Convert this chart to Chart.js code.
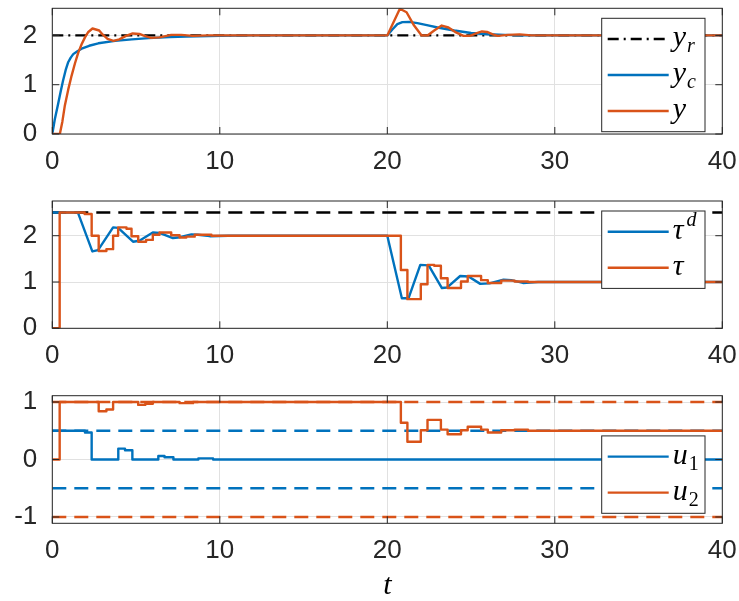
<!DOCTYPE html>
<html>
<head>
<meta charset="utf-8">
<script src="https://cdn.jsdelivr.net/npm/chart.js@4.4.1/dist/chart.umd.min.js"></script>
<style>
  html, body { margin: 0; padding: 0; background: #ffffff; }
  #wrap { position: relative; width: 739px; height: 601px; overflow: hidden; background: #ffffff; }
  #wrap canvas { position: absolute; left: 0; top: 0; }
</style>
</head>
<body>
<div id="wrap">
  <canvas id="p1" width="739" height="601"></canvas>
  <canvas id="p2" width="739" height="601"></canvas>
  <canvas id="p3" width="739" height="601"></canvas>
</div>
<script>
// ---- shared time axis ----
const tTicks = [0, 10, 20, 30, 40];
const tTickLabels = ['0', '10', '20', '30', '40'];

// ---- panel 1: reference, commanded and actual output ----
const yrT = [0, 40];
const yrV = [2, 2];
const ycT = [0, 0.15, 0.34, 0.5, 0.64, 0.8, 0.94, 1.1, 1.25, 1.5, 1.75, 2.2, 2.75, 3.75, 4.75, 5.75, 7, 8, 10, 12, 20,
             20.3, 20.6, 20.9, 21.3, 21.8, 22.5, 23, 24, 25, 26, 27, 28, 40];
const ycV = [0, 0.3, 0.6, 0.86, 1.08, 1.3, 1.45, 1.55, 1.62, 1.68, 1.73, 1.79, 1.84, 1.89, 1.92, 1.945, 1.965, 1.978, 1.99, 2.0, 2.0,
             2.12, 2.23, 2.27, 2.275, 2.25, 2.2, 2.16, 2.1, 2.05, 2.025, 2.01, 2.0, 2.0];
const yT = [0, 0.45, 0.6, 0.75, 0.95, 1.15, 1.35, 1.55, 1.75, 1.95, 2.15, 2.4, 2.8, 3.0, 3.3, 3.65, 4.0, 4.4, 4.8, 5.2, 5.5, 5.9, 6.4, 7.1, 7.7, 8.4, 9.3, 20,
            20.75, 21.15, 21.6, 22.05, 22.4, 22.8, 23.25, 23.65, 24.1, 24.55, 24.95, 25.3, 25.65, 25.95, 26.3, 26.6, 27.2, 27.9, 28.6, 40];
const yV = [0, 0, 0.25, 0.58, 0.9, 1.18, 1.43, 1.65, 1.82, 1.96, 2.07, 2.14, 2.1, 2.02, 1.93, 1.89, 1.92, 1.99, 2.04, 2.03, 1.99, 1.95, 1.96, 2.01, 2.01, 1.99, 2.0, 2.0,
            2.54, 2.47, 2.2, 2.0, 2.0, 2.1, 2.2, 2.16, 2.06, 1.99, 1.99, 2.04, 2.08, 2.07, 2.02, 1.99, 2.01, 2.02, 2.0, 2.0];
const p1Ticks = [0, 1, 2];
const p1TickLabels = ['0', '1', '2'];

// ---- panel 2: desired and applied torque ----
const tauMaxT = [0, 40];
const tauMaxV = [2.5, 2.5];
const tauDT = [0, 1.53, 2.39, 2.73, 3.63, 3.93, 4.82, 5.2, 6.0, 6.4, 7.2, 7.5, 8.3, 8.7, 9.4, 10.5, 20,
               20.87, 21.27, 21.97, 22.47, 23.26, 23.56, 24.35, 24.85, 25.55, 26.1, 26.94, 27.4, 28.1, 29, 40];
const tauDV = [2.5, 2.5, 1.66, 1.69, 2.18, 2.17, 1.87, 1.89, 2.07, 2.06, 1.95, 1.96, 2.03, 2.02, 1.99, 2.0, 2.0,
               0.65, 0.65, 1.37, 1.36, 0.87, 0.88, 1.13, 1.12, 0.96, 0.97, 1.05, 1.04, 0.98, 1.0, 1.0];
// applied torque, held constant from each instant to the next
const tauT = [0, 0.44, 1.93, 2.35, 2.77, 3.23, 3.63, 3.93, 4.43, 4.73, 5.13, 5.6, 6.0, 6.4, 7.1, 7.6, 8.0, 8.5, 9.5,
              20.81, 21.2, 22.0, 22.4, 22.8, 23.2, 23.6, 24.4, 24.8, 25.6, 26.0, 26.8, 27.6, 28.4, 40];
const tauV = [0, 2.5, 2.47, 2.0, 1.67, 1.71, 2.0, 2.18, 2.15, 1.99, 1.87, 1.91, 2.02, 2.07, 2.01, 1.96, 1.98, 2.02, 2.0,
              1.26, 0.63, 0.95, 1.37, 1.35, 1.08, 0.87, 1.01, 1.13, 1.04, 0.98, 1.03, 1.01, 1.0, 1.0];
const p2Ticks = [0, 1, 2];
const p2TickLabels = ['0', '1', '2'];

// ---- panel 3: control inputs and their bounds ----
const boundT = [0, 40];
const u1Max = [0.5, 0.5];
const u1Min = [-0.5, -0.5];
const u2Max = [1, 1];
const u2Min = [-1, -1];
const u1T = [0, 1.95, 2.35, 3.94, 4.34, 4.78, 6.33, 6.7, 7.23, 8.72, 9.6, 40];
const u1V = [0.5, 0.47, 0, 0.19, 0.16, 0, 0.06, 0.04, 0, 0.02, 0, 0];
const u2T = [0, 0.44, 2.77, 3.23, 3.63, 5.13, 5.55, 6.0, 7.6, 8.4,
             20.81, 21.2, 22.0, 22.4, 23.2, 23.6, 24.4, 24.8, 25.6, 26.0, 26.8, 27.6, 28.4, 40];
const u2V = [0, 1, 0.84, 0.87, 1, 0.95, 0.97, 1, 0.98, 1,
             0.64, 0.31, 0.51, 0.69, 0.52, 0.44, 0.51, 0.57, 0.52, 0.47, 0.51, 0.52, 0.5, 0.5];
const p3Ticks = [-1, 0, 1];
const p3TickLabels = ['-1', '0', '1'];

// ---- styling ----
const BLUE = '#0072BD';
const ORANGE = '#D95319';
const BLACK = '#000000';
const AXIS = '#262626';
const GRID = '#e1e1e1';
const TICK_FONT = '"Liberation Sans", Arial, Helvetica, sans-serif';
const MATH_FONT = '"Liberation Serif", "Times New Roman", serif';
const LW = 2.4;
const DASH = [14, 8];
const DASHDOT = [11, 5, 2, 5];

const pts = (ts, vs) => ts.map((t, i) => ({ x: t, y: vs[i] }));

function series(label, ts, vs, color, order, extra) {
  return Object.assign({
    label, data: pts(ts, vs), order,
    borderColor: color, backgroundColor: color, borderWidth: LW,
    pointRadius: 0, pointHoverRadius: 0, tension: 0, fill: false,
    borderJoinStyle: 'round', borderCapStyle: 'butt'
  }, extra || {});
}

// draws an italic symbol with optional subscript / superscript
function drawSymbol(ctx, x, base, item) {
  ctx.fillStyle = '#000000';
  ctx.textAlign = 'left';
  ctx.textBaseline = 'alphabetic';
  ctx.font = 'italic 30px ' + MATH_FONT;
  ctx.fillText(item.main, x, base);
  const w = ctx.measureText(item.main).width;
  if (item.sub) {
    ctx.font = (item.upright ? '' : 'italic ') + '20px ' + MATH_FONT;
    ctx.fillText(item.sub, x + w + 1, base + 6);
  }
  if (item.sup) {
    ctx.font = 'italic 20px ' + MATH_FONT;
    ctx.fillText(item.sup, x + w + 3, base - 13);
  }
}

// box, inward ticks on all four sides, and an in-axes legend
const frame = {
  id: 'frame',
  afterDatasetsDraw(chart) {
    const { ctx, chartArea: a, scales: { x, y } } = chart;
    const tl = 7;
    ctx.save();
    ctx.strokeStyle = AXIS;
    ctx.lineWidth = 1;
    ctx.setLineDash([]);
    ctx.beginPath();
    x.ticks.forEach(t => {
      const px = x.getPixelForValue(t.value);
      ctx.moveTo(px, a.bottom); ctx.lineTo(px, a.bottom - tl);
      ctx.moveTo(px, a.top); ctx.lineTo(px, a.top + tl);
    });
    y.ticks.forEach(t => {
      const py = y.getPixelForValue(t.value);
      ctx.moveTo(a.left, py); ctx.lineTo(a.left + tl, py);
      ctx.moveTo(a.right, py); ctx.lineTo(a.right - tl, py);
    });
    ctx.stroke();
    ctx.strokeRect(a.left, a.top, a.right - a.left, a.bottom - a.top);
    ctx.restore();
  },
  afterDraw(chart, args, opts) {
    const lg = opts.legend;
    if (!lg) return;
    const { ctx, chartArea: a } = chart;
    const n = lg.items.length;
    const w = 103.3, h = n * 36 + 5.4;
    const x0 = a.right - 17.3 - w;
    const y0 = lg.corner === 'se' ? a.bottom - 10 - h : a.top + 10;
    ctx.save();
    ctx.fillStyle = '#ffffff';
    ctx.fillRect(x0, y0, w, h);
    ctx.strokeStyle = AXIS;
    ctx.lineWidth = 1;
    ctx.strokeRect(x0, y0, w, h);
    lg.items.forEach((it, i) => {
      const cy = y0 + 20.7 + 36 * i;
      ctx.beginPath();
      ctx.setLineDash(it.dash || []);
      ctx.strokeStyle = it.color;
      ctx.lineWidth = LW;
      ctx.moveTo(x0 + 6, cy);
      ctx.lineTo(x0 + 67, cy);
      ctx.stroke();
      ctx.setLineDash([]);
      drawSymbol(ctx, x0 + 71, cy + 7, it);
    });
    ctx.restore();
  }
};

function panel(id, spec) {
  const W = 739, H = 601, left = 52.3, right = 722.3;
  const xH = spec.xAxisHeight;
  const xScale = {
    type: 'linear', min: 0, max: 40,
    afterBuildTicks: s => { s.ticks = tTicks.map(v => ({ value: v })); },
    afterFit: s => { s.height = xH; s.paddingLeft = 0; s.paddingRight = 0; },
    grid: { color: GRID, lineWidth: 1, drawTicks: false },
    border: { display: false },
    ticks: {
      padding: 12, color: AXIS, maxRotation: 0, autoSkip: false,
      font: { family: TICK_FONT, size: 26, lineHeight: 1.2 },
      callback: (v, i) => tTickLabels[i]
    },
    title: spec.xTitle ? {
      display: true, text: spec.xTitle, color: '#000000',
      font: { family: MATH_FONT, size: 30, style: 'italic', lineHeight: 1.0 },
      padding: { top: 0, bottom: 0 }
    } : { display: false }
  };
  const yScale = {
    type: 'linear', min: spec.yMin, max: spec.yMax,
    afterBuildTicks: s => { s.ticks = spec.yTicks.map(v => ({ value: v })); },
    afterFit: s => { s.width = left; s.paddingTop = 0; s.paddingBottom = 0; },
    grid: { color: GRID, lineWidth: 1, drawTicks: false },
    border: { display: false },
    ticks: {
      padding: 15, color: AXIS, autoSkip: false,
      font: { family: TICK_FONT, size: 26, lineHeight: 1.2 },
      callback: (v, i) => spec.yTickLabels[i]
    }
  };
  return new Chart(document.getElementById(id), {
    type: 'line',
    data: { datasets: spec.datasets },
    options: {
      responsive: false, animation: false, events: [],
      layout: { padding: { left: 0, right: W - right, top: spec.top, bottom: H - spec.bottom - xH } },
      plugins: { legend: { display: false }, tooltip: { enabled: false }, frame: { legend: spec.legend } },
      scales: { x: xScale, y: yScale }
    },
    plugins: [frame]
  });
}

panel('p1', {
  top: 8.3, bottom: 134, xAxisHeight: 40, yMin: 0, yMax: 2.55,
  yTicks: p1Ticks, yTickLabels: p1TickLabels,
  datasets: [
    series('y_r', yrT, yrV, BLACK, 2, { borderDash: DASHDOT }),
    series('y_c', ycT, ycV, BLUE, 1),
    series('y', yT, yV, ORANGE, 0)
  ],
  legend: { corner: 'ne', items: [
    { main: 'y', sub: 'r', color: BLACK, dash: DASHDOT },
    { main: 'y', sub: 'c', color: BLUE },
    { main: 'y', color: ORANGE }
  ] }
});

panel('p2', {
  top: 201, bottom: 328.3, xAxisHeight: 40, yMin: 0, yMax: 2.75,
  yTicks: p2Ticks, yTickLabels: p2TickLabels,
  datasets: [
    series('tau_max', tauMaxT, tauMaxV, BLACK, 2, { borderDash: DASH }),
    series('tau_d', tauDT, tauDV, BLUE, 1),
    series('tau', tauT, tauV, ORANGE, 0, { stepped: 'before' })
  ],
  legend: { corner: 'ne', items: [
    { main: '\u03C4', sup: 'd', color: BLUE },
    { main: '\u03C4', color: ORANGE }
  ] }
});

panel('p3', {
  top: 395.7, bottom: 523.3, xAxisHeight: 77.7, yMin: -1.11, yMax: 1.11,
  yTicks: p3Ticks, yTickLabels: p3TickLabels, xTitle: 't',
  datasets: [
    series('u1_max', boundT, u1Max, BLUE, 4, { borderDash: DASH }),
    series('u1_min', boundT, u1Min, BLUE, 4, { borderDash: DASH }),
    series('u2_max', boundT, u2Max, ORANGE, 3, { borderDash: DASH }),
    series('u2_min', boundT, u2Min, ORANGE, 3, { borderDash: DASH }),
    series('u1', u1T, u1V, BLUE, 1, { stepped: 'before' }),
    series('u2', u2T, u2V, ORANGE, 0, { stepped: 'before' })
  ],
  legend: { corner: 'se', items: [
    { main: 'u', sub: '1', upright: true, color: BLUE },
    { main: 'u', sub: '2', upright: true, color: ORANGE }
  ] }
});
</script>
</body>
</html>
